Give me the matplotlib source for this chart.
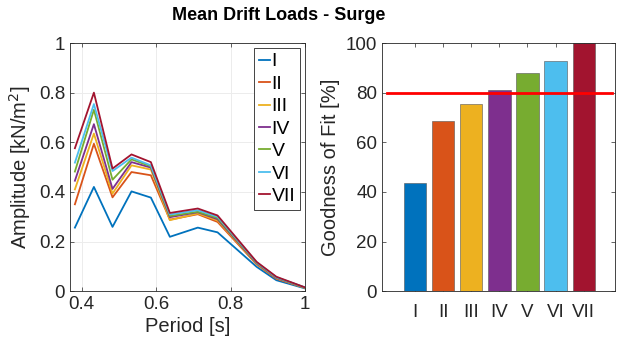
import matplotlib.pyplot as plt
from matplotlib.ticker import FuncFormatter

plt.rcParams['font.family'] = ['Liberation Sans', 'DejaVu Sans']

# periods [s]
period = [0.382, 0.433, 0.483, 0.534, 0.586, 0.637, 0.712, 0.765, 0.870, 0.923, 1.0]

# amplitude per case [kN/m^2]
amp_I   = [0.256, 0.420, 0.259, 0.402, 0.377, 0.219, 0.256, 0.237, 0.098, 0.044, 0.011]
amp_II  = [0.350, 0.594, 0.378, 0.480, 0.467, 0.288, 0.310, 0.279, 0.108, 0.050, 0.013]
amp_III = [0.410, 0.635, 0.393, 0.507, 0.490, 0.286, 0.313, 0.285, 0.110, 0.052, 0.013]
amp_IV  = [0.445, 0.673, 0.412, 0.520, 0.498, 0.298, 0.318, 0.290, 0.112, 0.053, 0.014]
amp_V   = [0.482, 0.731, 0.449, 0.531, 0.503, 0.303, 0.320, 0.295, 0.114, 0.055, 0.014]
amp_VI  = [0.518, 0.754, 0.484, 0.538, 0.507, 0.309, 0.326, 0.300, 0.116, 0.056, 0.015]
amp_VII = [0.576, 0.800, 0.494, 0.551, 0.520, 0.315, 0.333, 0.305, 0.118, 0.058, 0.015]

cases = ['I', 'II', 'III', 'IV', 'V', 'VI', 'VII']
fit = [43.7, 68.6, 75.5, 81.0, 88.0, 92.9, 100.0]
threshold = 80

colors = ['#0072BD', '#D95319', '#EDB120', '#7E2F8E', '#77AC30', '#4DBEEE', '#A2142F']
series = [amp_I, amp_II, amp_III, amp_IV, amp_V, amp_VI, amp_VII]

fig = plt.figure(figsize=(6.2, 3.47), dpi=100)
ax1 = fig.add_axes([0.113, 0.161, 0.379, 0.715])
ax2 = fig.add_axes([0.616, 0.161, 0.376, 0.715])

fmt = FuncFormatter(lambda v, p: '%g' % v)
txt = '#262626'

# left: amplitude curves
for s, c, name in zip(series, colors, cases):
    ax1.plot(period, s, color=c, lw=1.3, label=name)
ax1.set_xlim(0.369, 1.0)
ax1.set_ylim(0, 1)
ax1.set_xticks([0.4, 0.6, 0.8, 1.0])
ax1.set_yticks([0, 0.2, 0.4, 0.6, 0.8, 1.0])
ax1.xaxis.set_major_formatter(fmt)
ax1.yaxis.set_major_formatter(fmt)
ax1.grid(True, color='#ececec', lw=0.7)
ax1.set_axisbelow(True)
ax1.set_xlabel('Period [s]', fontsize=14.5, color=txt, labelpad=3)
ax1.set_ylabel('Amplitude [kN/m$^2$]', fontsize=14.5, color=txt, labelpad=4)
leg = ax1.legend(loc='upper right', fontsize=14, handlelength=0.55, handletextpad=0.1,
                 labelspacing=0.25, borderpad=0.25, fancybox=False, framealpha=1,
                 borderaxespad=0.25)
leg.get_frame().set_edgecolor(txt)
leg.get_frame().set_linewidth(0.6)

# right: goodness of fit bars
xpos = list(range(1, len(cases) + 1))
ax2.bar(xpos, fit, width=0.8, color=colors, edgecolor='#555555', linewidth=0.4, zorder=2)
ax2.plot([0, 8], [threshold, threshold], color='red', lw=2, zorder=3)
ax2.set_xlim(-0.17, 8.11)
ax2.set_ylim(0, 100)
ax2.set_xticks(xpos)
ax2.set_xticklabels(cases)
ax2.set_yticks([0, 20, 40, 60, 80, 100])
ax2.set_ylabel('Goodness of Fit [%]', fontsize=14.5, color=txt, labelpad=4)

for ax in (ax1, ax2):
    ax.tick_params(direction='in', length=3, width=0.5, labelsize=13.5, colors=txt,
                   top=True, right=True)
    for sp in ax.spines.values():
        sp.set_color(txt)
        sp.set_linewidth(0.6)
ax2.tick_params(axis='x', pad=9)

fig.text(0.45, 0.955, 'Mean Drift Loads - Surge', ha='center', va='center',
         fontsize=13, fontweight='bold')

fig.savefig('out.png', dpi=100)
plt.close(fig)
